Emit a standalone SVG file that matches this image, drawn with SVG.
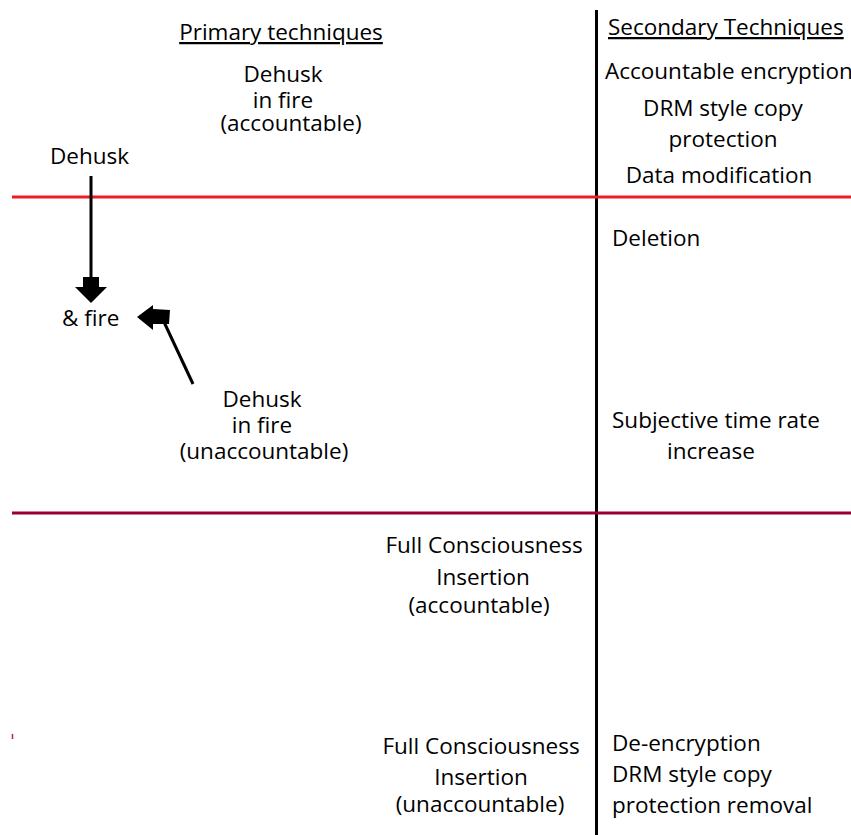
<svg xmlns="http://www.w3.org/2000/svg" width="851" height="835" viewBox="0 0 851 835">
  <style>
    text { font-family: "Open Sans", "Liberation Sans", Arial, sans-serif; font-size: 22.5px; fill: #000; }
    .mid { text-anchor: middle; }
    .u { text-decoration: underline; }
  </style>
  <rect width="851" height="835" fill="#fff"/>

  <!-- dividers -->
  <g id="dividers">
    <line x1="596.5" y1="10" x2="596.5" y2="835" stroke="#000" stroke-width="3"/>
    <line x1="12" y1="197" x2="851" y2="197" stroke="#ed1c24" stroke-width="3"/>
    <line x1="12" y1="513" x2="851" y2="513" stroke="#990030" stroke-width="3"/>
    <line x1="12.5" y1="734" x2="12.5" y2="739" stroke="#c0203a" stroke-width="1.5"/>
  </g>

  <!-- connectors -->
  <g id="connectors">
    <line x1="91" y1="176" x2="91" y2="280" stroke="#000" stroke-width="3"/>
    <polygon points="83,277 99,277 99,287 107,287 91,303 75,287 83,287" fill="#000"/>
    <line x1="193" y1="384" x2="164" y2="322" stroke="#000" stroke-width="3"/>
    <polygon points="137,317 153,305 153,309 170,310 169,324 153,324 153,330" fill="#000"/>
  </g>

  <!-- headers -->
  <g id="primary-header"><text class="mid u" x="281" y="40">Primary techniques</text></g>
  <g id="secondary-header"><text class="u" x="608" y="35">Secondary Techniques</text></g>

  <!-- primary techniques -->
  <g id="dehusk-in-fire-accountable">
    <text class="mid" x="283" y="82">Dehusk</text>
    <text class="mid" x="283" y="108">in fire</text>
    <text class="mid" x="291" y="131">(accountable)</text>
  </g>
  <g id="dehusk"><text x="50" y="164">Dehusk</text></g>
  <g id="and-fire"><text x="62" y="326">&amp; fire</text></g>
  <g id="dehusk-in-fire-unaccountable">
    <text class="mid" x="262" y="407">Dehusk</text>
    <text class="mid" x="262" y="433">in fire</text>
    <text class="mid" x="264" y="459">(unaccountable)</text>
  </g>
  <g id="fci-accountable">
    <text class="mid" x="484" y="553">Full Consciousness</text>
    <text class="mid" x="483" y="585">Insertion</text>
    <text class="mid" x="479" y="613">(accountable)</text>
  </g>
  <g id="fci-unaccountable">
    <text class="mid" x="481" y="754">Full Consciousness</text>
    <text class="mid" x="481" y="785">Insertion</text>
    <text class="mid" x="480" y="812">(unaccountable)</text>
  </g>

  <!-- secondary techniques -->
  <g id="accountable-encryption"><text x="605" y="79">Accountable encryption</text></g>
  <g id="drm-copy-protection">
    <text class="mid" x="723" y="116">DRM style copy</text>
    <text class="mid" x="723" y="147">protection</text>
  </g>
  <g id="data-modification"><text class="mid" x="719" y="183">Data modification</text></g>
  <g id="deletion"><text x="612" y="246">Deletion</text></g>
  <g id="subjective-time">
    <text x="612" y="428">Subjective time rate</text>
    <text class="mid" x="711" y="459">increase</text>
  </g>
  <g id="de-encryption"><text x="612" y="751">De-encryption</text></g>
  <g id="drm-removal">
    <text x="612" y="782">DRM style copy</text>
    <text x="612" y="813">protection removal</text>
  </g>
</svg>
